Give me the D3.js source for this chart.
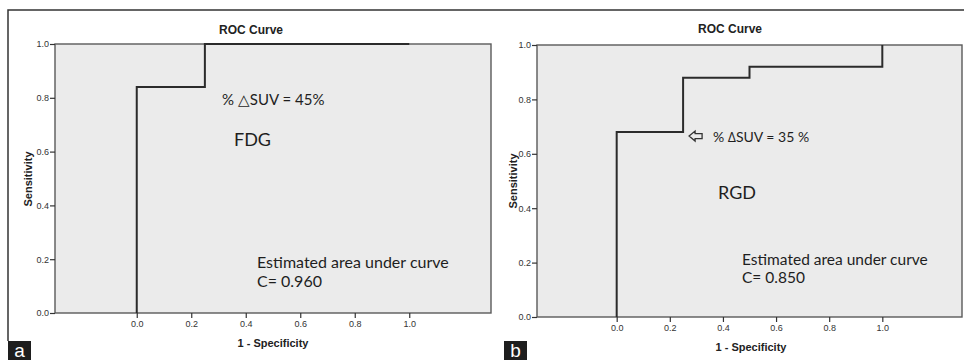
<!DOCTYPE html>
<html>
<head>
<meta charset="utf-8">
<script src="https://cdn.jsdelivr.net/npm/d3@7"></script>
<style>
  body { margin: 0; background: #fff; }
  svg { display: block; }
</style>
</head>
<body>
<svg width="964" height="360"></svg>
<script>
// ROC points (1 - specificity, sensitivity)
let fdgFpr = [0, 0, 0.25, 0.25, 1.0];
let fdgTpr = [0, 0.84, 0.84, 1.0, 1.0];
let rgdFpr = [0, 0, 0.25, 0.25, 0.5, 0.5, 1.0, 1.0];
let rgdTpr = [0, 0.68, 0.68, 0.88, 0.88, 0.92, 0.92, 1.0];

let xTicks = [0, 0.2, 0.4, 0.6, 0.8, 1.0];
let yTicks = [0, 0.2, 0.4, 0.6, 0.8, 1.0];

let svg = d3.select('svg');
let axisFont = "'Liberation Sans', Arial, sans-serif";
let noteFont = "Lato, 'Open Sans', sans-serif";

// outer frame (top and left only)
svg.append('path')
    .attr('d', 'M8,341V10H964')
    .attr('fill', 'none')
    .attr('stroke', '#333')
    .attr('stroke-width', 1.5);

function panel (fpr, tpr, opt) {
    let scaleX = d3.scaleLinear().domain([-0.3, 1.3]).range(opt.xr);
    let scaleY = d3.scaleLinear().domain([0, 1]).range(opt.yr);
    let g = svg.append('g');

    g.append('rect')
        .attr('x', opt.xr[0]).attr('y', opt.yr[1])
        .attr('width', opt.xr[1] - opt.xr[0])
        .attr('height', opt.yr[0] - opt.yr[1])
        .attr('fill', '#ebebeb')
        .attr('stroke', '#5a5a5a')
        .attr('stroke-width', 1.4);

    // y-axis
    let ya = g.append('g')
        .attr('transform', 'translate(' + opt.xr[0] + ',0)')
        .call(d3.axisLeft(scaleY).tickValues(yTicks).tickFormat(d3.format('.1f')).tickSize(5).tickPadding(1));
    // x-axis
    let xa = g.append('g')
        .attr('transform', 'translate(0,' + opt.yr[0] + ')')
        .call(d3.axisBottom(scaleX).tickValues(xTicks).tickFormat(d3.format('.1f')).tickSize(5).tickPadding(3));
    [ya, xa].forEach(a => {
        a.select('.domain').remove();
        a.selectAll('line').attr('stroke', '#333').attr('stroke-width', 1.2);
        a.selectAll('text').attr('font-family', axisFont).attr('font-size', 9).attr('fill', '#333');
    });

    let line = d3.line()
        .x((d, i) => scaleX(fpr[i]))
        .y((d, i) => scaleY(tpr[i]));
    g.append('path')
        .datum(fpr)
        .attr('d', line)
        .attr('fill', 'none')
        .attr('stroke', '#2b2b2b')
        .attr('stroke-width', 2);

    g.append('text')
        .attr('x', opt.titleX).attr('y', opt.titleY)
        .attr('text-anchor', 'middle')
        .attr('font-family', axisFont).attr('font-weight', 'bold').attr('font-size', 12)
        .attr('fill', '#222')
        .text('ROC Curve');
    g.append('text')
        .attr('x', opt.xlabX).attr('y', opt.xlabY)
        .attr('text-anchor', 'middle')
        .attr('font-family', axisFont).attr('font-weight', 'bold').attr('font-size', 11)
        .attr('fill', '#222')
        .text('1 - Specificity');
    g.append('text')
        .attr('transform', 'translate(' + opt.ylabX + ',' + opt.ylabY + ') rotate(-90)')
        .attr('text-anchor', 'middle')
        .attr('font-family', axisFont).attr('font-weight', 'bold').attr('font-size', 11)
        .attr('fill', '#222')
        .text('Sensitivity');

    // notes
    opt.notes.forEach(n => {
        g.append('text')
            .attr('x', n.x).attr('y', n.y)
            .attr('font-family', noteFont).attr('font-size', n.size)
            .attr('fill', '#1e1e1e')
            .text(n.t);
    });

    // panel letter
    g.append('rect')
        .attr('x', opt.letterX).attr('y', 341)
        .attr('width', 23).attr('height', 19)
        .attr('fill', '#1e1e1e');
    g.append('text')
        .attr('x', opt.letterX + 11.5).attr('y', 357)
        .attr('text-anchor', 'middle')
        .attr('font-family', axisFont).attr('font-size', 19)
        .attr('fill', '#fff')
        .text(opt.letter);

    return {scaleX, scaleY, g};
}

panel(fdgFpr, fdgTpr, {
    xr: [55, 491], yr: [313, 44],
    titleX: 251, titleY: 34,
    xlabX: 273, xlabY: 347,
    ylabX: 32, ylabY: 179,
    letter: 'a', letterX: 8,
    notes: [
        {t: '% \u25B3SUV = 45%', x: 222, y: 105, size: 15},
        {t: 'FDG', x: 234, y: 146, size: 18},
        {t: 'Estimated area under curve', x: 257, y: 268, size: 16},
        {t: 'C= 0.960', x: 257, y: 287, size: 16}
    ]
});

let right = panel(rgdFpr, rgdTpr, {
    xr: [537, 962], yr: [317, 45],
    titleX: 730, titleY: 33,
    xlabX: 751, xlabY: 351,
    ylabX: 517, ylabY: 181,
    letter: 'b', letterX: 504,
    notes: [
        {t: '% \u2206SUV = 35 %', x: 713, y: 142, size: 14},
        {t: 'RGD', x: 718, y: 199, size: 18},
        {t: 'Estimated area under curve', x: 742, y: 265, size: 15.5},
        {t: 'C= 0.850', x: 742, y: 283, size: 15.5}
    ]
});

// hollow arrow pointing at the 0.25 / 0.68 corner
let ax = right.scaleX(0.25) + 6, ay = right.scaleY(0.68) + 4;
right.g.append('path')
    .attr('d', 'M' + ax + ',' + ay + 'l6,-5v2.5h7v5h-7v2.5z')
    .attr('fill', 'none')
    .attr('stroke', '#333')
    .attr('stroke-width', 1.3)
    .attr('stroke-linejoin', 'miter');
</script>
</body>
</html>
